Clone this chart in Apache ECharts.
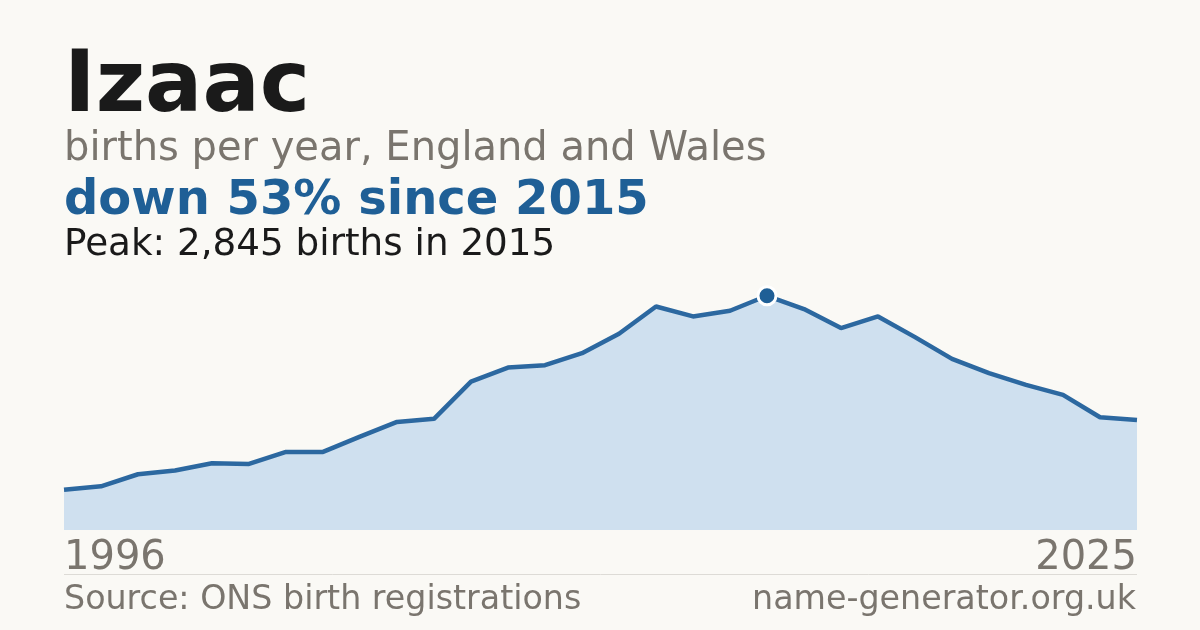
<!DOCTYPE html>
<html>
<head>
<meta charset="utf-8">
<script src="https://cdn.jsdelivr.net/npm/echarts@6/dist/echarts.min.js"></script>
<style>
html,body{margin:0;padding:0;background:#faf9f5;}
#c{width:1200px;height:630px;}
</style>
</head>
<body>
<div id="c"></div>
<script>
const years = [1996,1997,1998,1999,2000,2001,2002,2003,2004,2005,2006,2007,2008,2009,2010,2011,2012,2013,2014,2015,2016,2017,2018,2019,2020,2021,2022,2023,2024,2025].map(String);
const births = [490,531,677,723,811,802,948,948,1135,1313,1350,1803,1973,2002,2148,2383,2715,2594,2663,2845,2683,2452,2594,2343,2079,1905,1763,1641,1370,1337];
const titleText = 'Izaac';
const subtitleText = 'births per year, England and Wales';
const changeText = 'down 53% since 2015';
const peakText = 'Peak: 2,845 births in 2015';
const sourceText = 'Source: ONS birth registrations';
const siteText = 'name-generator.org.uk';

const peakIdx = births.indexOf(Math.max(...births));
const FONT = 'DejaVu Sans';

const chart = echarts.init(document.getElementById('c'), null, {renderer:'canvas'});
chart.setOption({
  backgroundColor: '#faf9f5',
  animation: false,
  grid: {left: 64, right: 63, top: 283, bottom: 100},
  xAxis: {
    type: 'category', data: years, boundaryGap: false,
    axisLine: {show: false}, axisTick: {show: false}, splitLine: {show: false},
    axisLabel: {
      interval: (i) => i === 0 || i === years.length - 1,
      showMinLabel: true, showMaxLabel: true,
      alignMinLabel: 'left', alignMaxLabel: 'right',
      fontFamily: FONT, fontSize: 40, color: '#7a756e', margin: 9
    }
  },
  yAxis: {type: 'value', min: 0, max: 3000, show: false, splitLine: {show: false}},
  series: [
    {
      type: 'line', data: births, showSymbol: false, symbol: 'none',
      lineStyle: {color: '#2c68a0', width: 4.5},
      areaStyle: {color: '#cfe0ef', opacity: 1},
      z: 2
    },
    {
      type: 'scatter',
      data: [[years[peakIdx], births[peakIdx]]],
      symbol: 'circle', symbolSize: 18,
      itemStyle: {color: '#1f5f96', borderColor: '#ffffff', borderWidth: 3, opacity: 1},
      z: 5
    }
  ],
  graphic: [
    {type: 'text', left: 64, top: 46, style: {text: titleText, font: 'bold 85px "DejaVu Sans"', fill: '#1a1a1a'}},
    {type: 'text', left: 64, top: 130, style: {text: subtitleText, font: '40px "DejaVu Sans"', fill: '#7a756e'}},
    {type: 'text', left: 64, top: 178, style: {text: changeText, font: 'bold 48px "DejaVu Sans"', fill: '#1f5f96'}},
    {type: 'text', left: 64, top: 227, style: {text: peakText, font: '37.3px "DejaVu Sans"', fill: '#1a1a1a'}},
    {type: 'line', shape: {x1: 64, y1: 574.5, x2: 1137, y2: 574.5}, style: {stroke: '#dddbd6', lineWidth: 1}},
    {type: 'text', left: 64, top: 584, style: {text: sourceText, font: '33.3px "DejaVu Sans"', fill: '#7a756e'}},
    {type: 'text', right: 64, top: 584, style: {text: siteText, font: '33.3px "DejaVu Sans"', fill: '#7a756e'}}
  ]
});
</script>
</body>
</html>
